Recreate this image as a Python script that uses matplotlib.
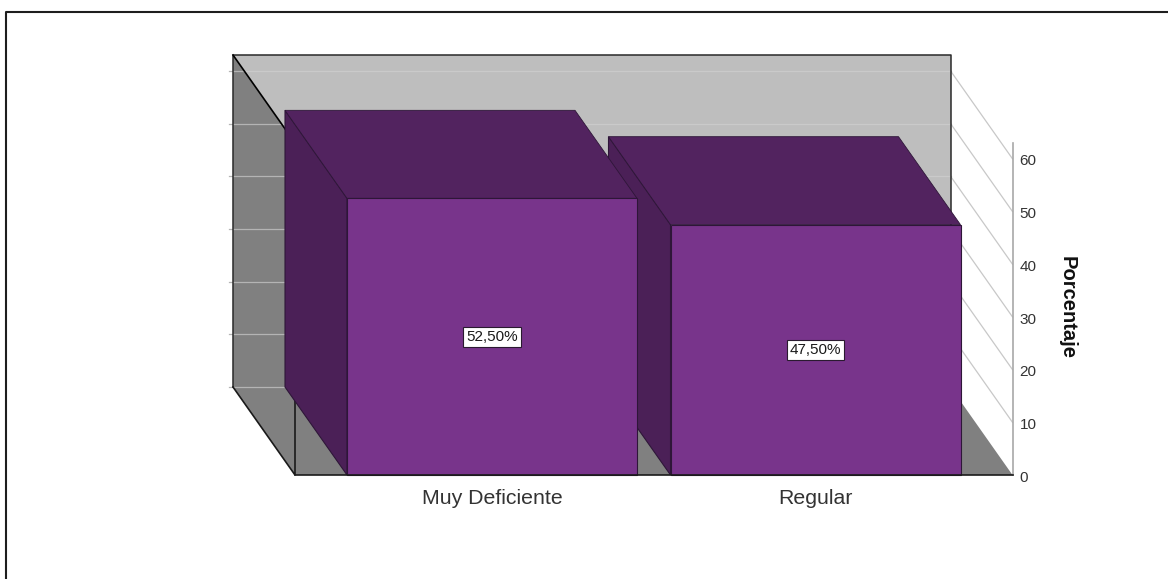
import matplotlib
matplotlib.use("Agg")
from matplotlib import pyplot as plt

plt.rcParams['font.family'] = ['Liberation Sans', 'DejaVu Sans']

categories = ['Muy Deficiente', 'Regular']
percent = [52.5, 47.5]
percent_labels = ['52,50%', '47,50%']
y_ticks = [0, 10, 20, 30, 40, 50, 60]

W, H = 1168, 579
x_unit = 323.5   # pixels between the two bars
y_unit = 5.27    # pixels per percent
x0_px, y0_px = 492.0, 475.0

# depth of the 3D box, in axis units
dx = -62 / x_unit
dy = 88 / y_unit
half = 145 / x_unit
y_top = 63.0

# box limits
x_left = (295 - x0_px) / x_unit
x_right = (1012.5 - x0_px) / x_unit

front_c = '#78348b'
top_c = '#52235f'
side_c = '#4b2057'
wall_c = '#808080'
back_c = '#bebebe'
edge_c = '#2e1638'

fig = plt.figure(figsize=(W / 100, H / 100), dpi=100)
ax = fig.add_axes([0, 0, 1, 1])
ax.set_xlim(-x0_px / x_unit, (W - x0_px) / x_unit)
ax.set_ylim(-(H - y0_px) / y_unit, y0_px / y_unit)
ax.axis('off')

# back wall, left wall, floor
ax.fill([x_left + dx, x_right + dx, x_right + dx, x_left + dx],
        [dy, dy, y_top + dy, y_top + dy], color=back_c, lw=0, zorder=1)
ax.fill([x_left + dx, x_left, x_left, x_left + dx],
        [dy, 0, y_top, y_top + dy], color=wall_c, lw=0, zorder=2)
ax.fill([x_left + dx, x_right + dx, x_right, x_left],
        [dy, dy, 0, 0], color=wall_c, lw=0, zorder=2)

# gridlines: across the back wall, over the left wall and out to the value axis
for t in y_ticks:
    # where the line meets the slanted top edge of the left wall
    x_meet = min(x_left, x_left + dx - dx * (y_top - t) / dy)
    ax.plot([x_left + dx - 4 / x_unit, x_meet], [t + dy, t + dy],
            color='#b4b4b4', lw=0.9, zorder=2.5)
    if t > 0:
        ax.plot([x_left + dx, x_right + dx], [t + dy, t + dy],
                color='#cacaca', lw=0.9, zorder=1.5)
        ax.plot([x_right + dx, x_right], [t + dy, t], color='#c8c8c8', lw=0.9, zorder=3)

# box outline
ax.plot([x_left + dx, x_left + dx, x_right + dx, x_right + dx],
        [dy, y_top + dy, y_top + dy, dy], color='#2a2a2a', lw=1.1, zorder=4)
ax.plot([x_left + dx, x_left], [y_top + dy, y_top], color='black', lw=1.2, zorder=4)
ax.plot([x_left + dx, x_left, x_left], [dy, 0, y_top], color='#1a1a1a', lw=1.2, zorder=4)

# value axis
ax.plot([x_right, x_right], [0, y_top], color='#a8a8a8', lw=1.2, zorder=4)
ax.plot([x_left, x_right], [0, 0], color='#1a1a1a', lw=1.2, zorder=8)
for t in y_ticks:
    ax.text(x_right + 7 / x_unit, t - 0.5, str(t), fontsize=11, color='#333333',
            ha='left', va='center')

# bars: side, top and front faces, the left bar sits in front of the right one
for i, v in enumerate(percent):
    l, r = i - half, i + half
    z = 6 - i
    ax.fill([l + dx, l, l, l + dx], [dy, 0, v, v + dy], fc=side_c, ec=edge_c, lw=0.8, zorder=z)
    ax.fill([l + dx, r + dx, r, l], [v + dy, v + dy, v, v], fc=top_c, ec=edge_c, lw=0.6, zorder=z)
    ax.fill([l, r, r, l], [0, 0, v, v], fc=front_c, ec=edge_c, lw=0.8, zorder=z)
    ax.text(i, v / 2, percent_labels[i], fontsize=11, color='#1a1a1a', ha='center', va='center',
            zorder=10, bbox=dict(boxstyle='square,pad=0.2', fc='white', ec='#2a1a30', lw=0.8))
    ax.text(i, -23 / y_unit, categories[i], fontsize=15.3, color='#333333',
            ha='center', va='center')

ax.text((1067 - x0_px) / x_unit, (y0_px - 308) / y_unit, 'Porcentaje', fontsize=14.5, fontweight='bold',
        rotation=270, color='#111111', ha='center', va='center')

# outer frame, open on the right and at the bottom
fig.add_artist(plt.Line2D([6 / W, 6 / W, 1], [0, 1 - 11.5 / H, 1 - 11.5 / H],
                          color='#1e1e1e', lw=1.5))

fig.savefig('out.png', dpi=100)
